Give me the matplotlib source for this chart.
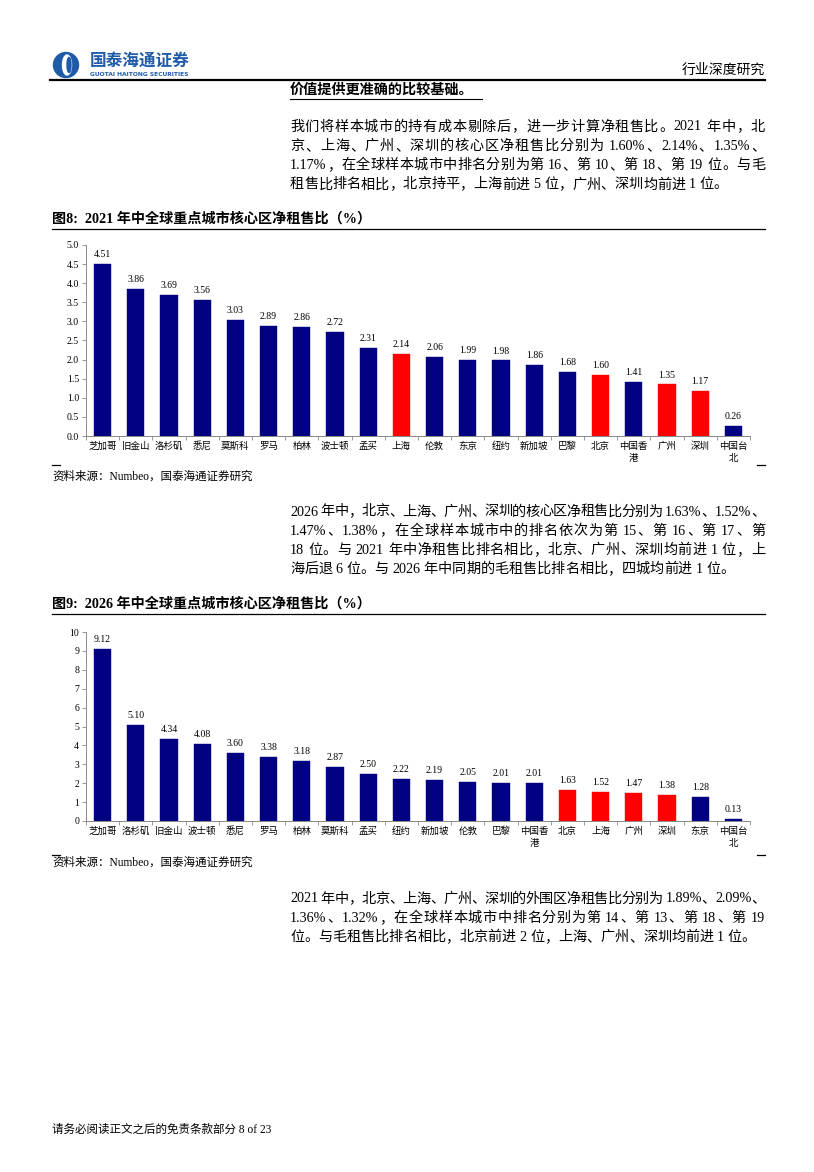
import re
import numpy as np
import matplotlib
matplotlib.use("Agg")
import matplotlib.pyplot as plt
from matplotlib.patches import Circle, Ellipse

plt.rcParams['font.family'] = ['Liberation Serif', 'Noto Sans CJK SC', 'DejaVu Sans']

# 图8 数据：2021 年中核心区净租售比
cats_2021 = ['芝加哥', '旧金山', '洛杉矶', '悉尼', '莫斯科', '罗马', '柏林', '波士顿', '孟买', '上海',
             '伦敦', '东京', '纽约', '新加坡', '巴黎', '北京', '中国香\n港', '广州', '深圳', '中国台\n北']
vals_2021 = [4.51, 3.86, 3.69, 3.56, 3.03, 2.89, 2.86, 2.72, 2.31, 2.14,
             2.06, 1.99, 1.98, 1.86, 1.68, 1.60, 1.41, 1.35, 1.17, 0.26]

# 图9 数据：2026 年中核心区净租售比
cats_2026 = ['芝加哥', '洛杉矶', '旧金山', '波士顿', '悉尼', '罗马', '柏林', '莫斯科', '孟买', '纽约',
             '新加坡', '伦敦', '巴黎', '中国香\n港', '北京', '上海', '广州', '深圳', '东京', '中国台\n北']
vals_2026 = [9.12, 5.10, 4.34, 4.08, 3.60, 3.38, 3.18, 2.87, 2.50, 2.22,
             2.19, 2.05, 2.01, 2.01, 1.63, 1.52, 1.47, 1.38, 1.28, 0.13]

mainland = ['北京', '上海', '广州', '深圳']

para1 = ["我们将样本城市的持有成本剔除后，进一步计算净租售比。2021 年中，北",
         "京、上海、广州、深圳的核心区净租售比分别为 1.60%、2.14%、1.35%、",
         "1.17%，在全球样本城市中排名分别为第 16、第 10、第 18、第 19 位。与毛",
         "租售比排名相比，北京持平，上海前进 5 位，广州、深圳均前进 1 位。"]
para2 = ["2026 年中，北京、上海、广州、深圳的核心区净租售比分别为 1.63%、1.52%、",
         "1.47%、1.38%，在全球样本城市中的排名依次为第 15、第 16、第 17、第",
         "18 位。与 2021 年中净租售比排名相比，北京、广州、深圳均前进 1 位，上",
         "海后退 6 位。与 2026 年中同期的毛租售比排名相比，四城均前进 1 位。"]
para3 = ["2021 年中，北京、上海、广州、深圳的外围区净租售比分别为 1.89%、2.09%、",
         "1.36%、1.32%，在全球样本城市中排名分别为第 14、第 13、第 18、第 19",
         "位。与毛租售比排名相比，北京前进 2 位，上海、广州、深圳均前进 1 位。"]

W, H = 814, 1172
fig = plt.figure(figsize=(W / 100, H / 100), dpi=100)
ov = fig.add_axes([0, 0, 1, 1])
ov.set_xlim(0, W)
ov.set_ylim(H, 0)
ov.axis('off')
renderer = fig.canvas.get_renderer()


def justify(line, x0, x1, y, size, last=False, weight='normal'):
    toks = re.findall(r'[A-Za-z0-9.%]+| |.', line)
    objs = []
    for t in toks:
        objs.append(ov.text(0, y, t, fontsize=size, va='center', ha='left', weight=weight))
    widths = [o.get_window_extent(renderer).width for o in objs]
    gap = 0 if last or len(objs) < 2 else (x1 - x0 - sum(widths)) / (len(objs) - 1)
    x = x0
    for o, w in zip(objs, widths):
        o.set_x(x)
        x += w + gap


def paragraph(lines, y0, dy):
    for i, ln in enumerate(lines):
        justify(ln, 290, 765, y0 + i * dy, 10.2, last=(i == len(lines) - 1))


# 页眉
ov.add_patch(Circle((66, 65), 12.5, color='#1f5ba8'))
ov.add_patch(Ellipse((67, 65), 9, 20, color='white'))
ov.add_patch(Ellipse((69, 65), 4, 15, color='#1f5ba8'))
ov.text(90, 62, '国泰海通证券', fontsize=12, color='#1f5ba8', weight='bold', va='center', ha='left')
ov.text(90, 74, 'GUOTAI HAITONG SECURITIES', fontsize=4.3, color='#1f5ba8', weight='bold',
        va='center', ha='left', family='DejaVu Sans')
ov.text(765, 70, '行业深度研究', fontsize=10, va='center', ha='right')
ov.plot([50, 765], [80, 80], color='black', lw=1.6)

ov.text(290, 90, '价值提供更准确的比较基础。', fontsize=10.2, weight='bold', va='center', ha='left')
ov.plot([290, 482], [98.5, 98.5], color='black', lw=0.8)

paragraph(para1, 127, 19.3)
paragraph(para2, 512, 19.1)
paragraph(para3, 899, 19.2)

ov.text(52, 219, '图8:  2021 年中全球重点城市核心区净租售比（%）', fontsize=10.2, weight='bold',
        va='center', ha='left')
ov.plot([52, 765], [229, 229], color='black', lw=0.9)
ov.text(52, 604, '图9:  2026 年中全球重点城市核心区净租售比（%）', fontsize=10.2, weight='bold',
        va='center', ha='left')
ov.plot([52, 765], [614, 614], color='black', lw=0.9)

for ys in (465, 855):
    ov.plot([52, 60], [ys, ys], color='black', lw=0.9)
    ov.plot([757, 765], [ys, ys], color='black', lw=0.9)

ov.text(52, 477, '资料来源：Numbeo，国泰海通证券研究', fontsize=8.3, va='center', ha='left')
ov.text(52, 863, '资料来源：Numbeo，国泰海通证券研究', fontsize=8.3, va='center', ha='left')
ov.text(52, 1130, '请务必阅读正文之后的免责条款部分 8 of 23', fontsize=8.3, va='center', ha='left')


def bar_chart(left, top, right, bottom, cats, vals, ymax, yticks, fmt):
    ax = fig.add_axes([left / W, 1 - bottom / H, (right - left) / W, (bottom - top) / H])
    x = np.arange(len(cats))
    colors = ['#ff0000' if c in mainland else '#000080' for c in cats]
    ax.bar(x, vals, width=0.52, color=colors, edgecolor=colors, linewidth=0.3)
    for i, v in enumerate(vals):
        ax.annotate(f'{v:.2f}', (i, v), xytext=(0, 3.5), textcoords='offset points',
                    ha='center', va='bottom', fontsize=7)
    ax.set_xlim(-0.5, len(cats) - 0.5)
    ax.set_ylim(0, ymax)
    ax.set_yticks(yticks)
    ax.set_yticklabels([fmt.format(t) for t in yticks], fontsize=7)
    ax.set_xticks(x)
    ax.set_xticklabels(cats, fontsize=6.8, linespacing=1.45)
    ax.set_xticks(np.arange(len(cats) + 1) - 0.5, minor=True)
    ax.tick_params(axis='x', which='major', length=0, pad=4)
    ax.tick_params(axis='x', which='minor', length=3, width=0.6, color='#888888', direction='out')
    ax.tick_params(axis='y', length=3, width=0.6, color='#888888', pad=2)
    for s in ('top', 'right'):
        ax.spines[s].set_visible(False)
    for s in ('left', 'bottom'):
        ax.spines[s].set_color('#888888')
        ax.spines[s].set_linewidth(0.7)
    ax.patch.set_alpha(0)
    return ax


bar_chart(86, 245, 750, 436, cats_2021, vals_2021, 5.0, np.arange(0, 5.01, 0.5), '{:.1f}')
bar_chart(86, 632, 750, 821, cats_2026, vals_2026, 10, np.arange(0, 11, 1), '{:.0f}')

fig.savefig('out.png', dpi=100)
